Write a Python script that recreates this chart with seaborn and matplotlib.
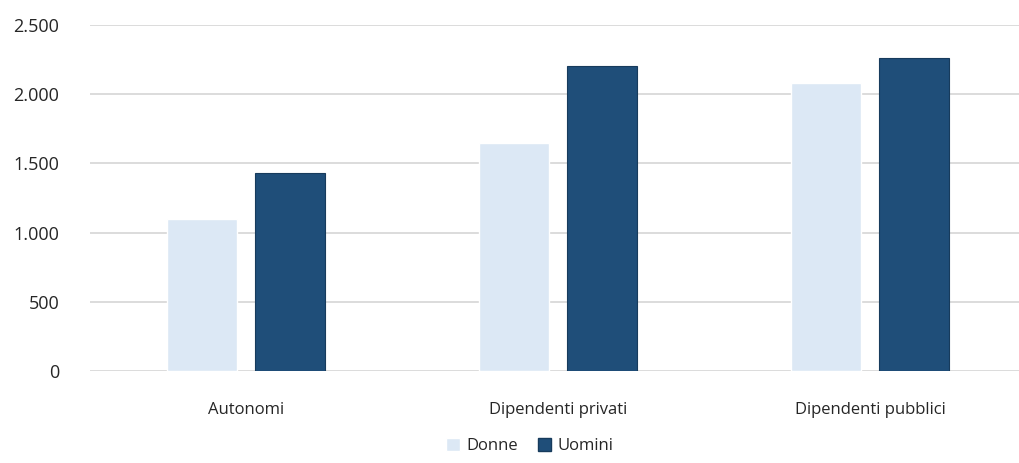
import matplotlib
matplotlib.use("Agg")
import matplotlib.pyplot as plt
from matplotlib.ticker import FuncFormatter
import pandas as pd
import seaborn as sns

categorie = ["Autonomi", "Dipendenti privati", "Dipendenti pubblici"]
donne = [1095, 1650, 2083]
uomini = [1433, 2202, 2258]
serie = ["Donne", "Uomini"]
colori = ["#DCE8F5", "#1F4E79"]

df = pd.DataFrame({
    "categoria": categorie * 2,
    "sesso": ["Donne"] * 3 + ["Uomini"] * 3,
    "valore": donne + uomini,
})

sns.set_style("white")
plt.rcParams["font.family"] = ["Open Sans", "DejaVu Sans"]

fig = plt.figure(figsize=(10.19, 4.63), dpi=100)
ax = fig.add_axes([90 / 1019, 92 / 463, 936 / 1019, 346 / 463])

sns.barplot(data=df, x="categoria", y="valore", hue="sesso", hue_order=serie,
            palette=colori, saturation=1, width=0.564, gap=0.205, ax=ax, legend=False)

# bordo scuro solo per le barre degli uomini
for p in ax.patches[3:6]:
    p.set_edgecolor("#173B5C")
    p.set_linewidth(0.8)

ax.set_ylim(0, 2500)
ax.set_xlim(-0.5, 2.5)
ax.set_yticks(range(0, 2501, 500))
ax.yaxis.set_major_formatter(FuncFormatter(lambda v, _: f"{int(v):,}".replace(",", ".")))
ax.yaxis.grid(True, color="#D9D9D9", linewidth=1.3)
ax.set_axisbelow(True)
for s in ax.spines.values():
    s.set_visible(False)
ax.set_xlabel("")
ax.set_ylabel("")
ax.tick_params(axis="y", labelsize=13, colors="#262626", pad=22, length=0)
ax.tick_params(axis="x", labelsize=12, colors="#262626", pad=22, length=0)

handles = [plt.Rectangle((0, 0), 1, 1, facecolor=colori[0]),
           plt.Rectangle((0, 0), 1, 1, facecolor=colori[1], edgecolor="#173B5C")]
fig.legend(handles, serie, loc="upper center", bbox_to_anchor=(530 / 1019, 28 / 463),
           ncol=2, frameon=False, fontsize=12, handlelength=0.8, handleheight=0.8,
           handletextpad=0.4, columnspacing=1.2, labelcolor="#262626",
           borderaxespad=0, borderpad=0.2)

fig.savefig("out.png", dpi=100, facecolor="white")
